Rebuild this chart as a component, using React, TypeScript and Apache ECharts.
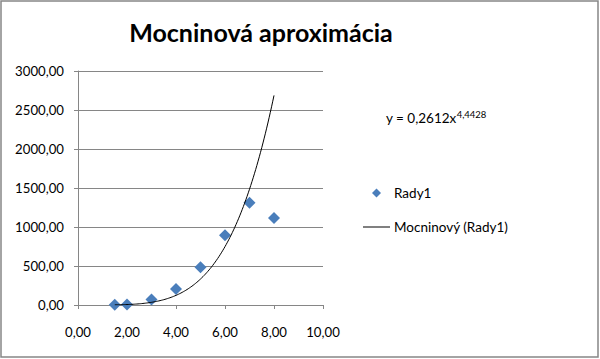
import React, { useEffect, useRef } from "react";
import * as echarts from "echarts";

const titleText = "Mocninová aproximácia";
const seriesName = "Rady1";
const trendName = "Mocninový (Rady1)";
const xValues = [1.5, 2, 3, 4, 5, 6, 7, 8];
const yValues = [2, 8, 70, 205, 483, 893, 1312, 1115];
const trendCoef = 0.2612;
const trendExp = 4.4428;
const trendCoefLabel = "0,2612";
const trendExpLabel = "4,4428";

const fmt = (v: number) => v.toFixed(2).replace(".", ",");

export default function App() {
  const ref = useRef<HTMLDivElement>(null);
  useEffect(() => {
    if (!ref.current) return;
    const chart = echarts.init(ref.current, undefined, { renderer: "svg" });
    const scatterData = xValues.map((x, i) => [x, yValues[i]]);
    const xMin = Math.min(...xValues);
    const xMax = Math.max(...xValues);
    const trendData: number[][] = [];
    const steps = 130;
    for (let i = 0; i <= steps; i++) {
      const x = xMin + ((xMax - xMin) * i) / steps;
      trendData.push([x, trendCoef * Math.pow(x, trendExp)]);
    }
    const font = "Lato, 'Noto Sans', sans-serif";
    const gray = "#868686";
    const fs = 13.2;
    const lfs = 13.5;
    chart.setOption({
      animation: false,
      backgroundColor: "#ffffff",
      textStyle: { fontFamily: font },
      grid: { left: 78, right: 277, top: 71, bottom: 54, containLabel: false },
      xAxis: {
        type: "value",
        min: 0,
        max: 10,
        interval: 2,
        axisLine: { show: true, onZero: false, lineStyle: { color: gray, width: 1 } },
        axisTick: { show: true, length: 4, lineStyle: { color: gray } },
        splitLine: { show: false },
        axisLabel: { formatter: fmt, color: "#000", fontSize: fs, fontFamily: font, margin: 20 },
      },
      yAxis: {
        type: "value",
        min: 0,
        max: 3000,
        interval: 500,
        axisLine: { show: true, lineStyle: { color: gray, width: 1 } },
        axisTick: { show: true, length: 4, lineStyle: { color: gray } },
        splitLine: { show: true, lineStyle: { color: gray, width: 1 } },
        axisLabel: { formatter: fmt, color: "#000", fontSize: fs, fontFamily: font, margin: 14 },
      },
      legend: {
        orient: "vertical",
        left: 363,
        top: 186,
        padding: 0,
        itemWidth: 27,
        itemHeight: 9,
        itemGap: 20,
        symbolKeepAspect: true,
        textStyle: { fontSize: lfs, color: "#000", fontFamily: font, padding: [0, 0, 0, -1] },
        data: [
          { name: seriesName, icon: "path://M5,0 L10,5 L5,10 L0,5 Z", itemStyle: { color: "#4a7ebb" } },
          { name: trendName, icon: "path://M0,0 L27,0 L27,1 L0,1 Z", itemStyle: { color: "#000000" } },
        ],
      },
      series: [
        {
          name: seriesName,
          type: "scatter",
          symbol: "diamond",
          symbolSize: 12,
          itemStyle: { color: "#4a7ebb", opacity: 1 },
          data: scatterData,
          z: 3,
        },
        {
          name: trendName,
          type: "line",
          symbol: "none",
          showSymbol: false,
          lineStyle: { color: "#000000", width: 1 },
          itemStyle: { color: "#000000" },
          data: trendData,
          z: 4,
        },
      ],
      graphic: [
        {
          type: "rect",
          shape: { x: 1, y: 1, width: 597, height: 356 },
          style: { fill: "none", stroke: gray, lineWidth: 1.5 },
          silent: true,
        },
        {
          type: "text",
          x: 261,
          y: 32,
          style: {
            text: titleText,
            fontFamily: font,
            fontWeight: "bold",
            fontSize: 25,
            fill: "#000",
            align: "center",
            verticalAlign: "middle",
          },
        },
        {
          type: "text",
          x: 386,
          y: 118,
          style: {
            text: "y = " + trendCoefLabel + "x{sup|" + trendExpLabel + "}",
            fontFamily: font,
            fontSize: lfs,
            fill: "#000",
            align: "left",
            verticalAlign: "middle",
            rich: {
              sup: { fontSize: 9.5, fontFamily: font, fill: "#000", verticalAlign: "bottom", padding: [0, 0, 8, 0] },
            },
          },
        },
      ],
    });
    return () => chart.dispose();
  }, []);
  return (
    <div
      ref={ref}
      style={{ position: "absolute", left: 0, top: 0, width: 600, height: 359 }}
    />
  );
}
